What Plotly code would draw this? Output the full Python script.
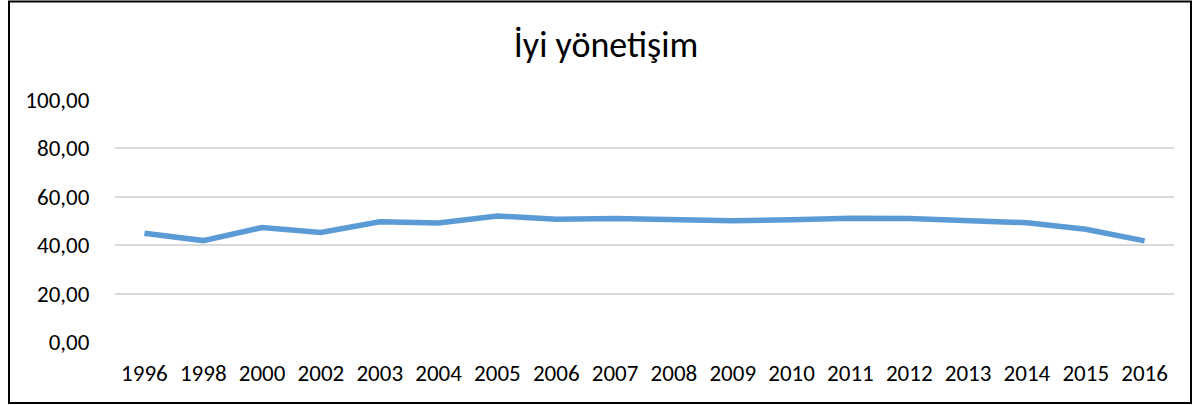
import plotly.graph_objects as go

years = ["1996", "1998", "2000", "2002", "2003", "2004", "2005", "2006", "2007",
         "2008", "2009", "2010", "2011", "2012", "2013", "2014", "2015", "2016"]
values = [44.9, 41.9, 47.3, 45.3, 49.7, 49.2, 52.1, 50.7, 51.0,
          50.7, 50.1, 50.5, 51.1, 51.0, 50.1, 49.3, 46.6, 41.8]
title_text = "İyi yönetişim"

W, H = 1200, 405
ml, mr, mt, mb = 115, 26, 100, 63
pw, ph = W - ml - mr, H - mt - mb

fig = go.Figure()
fig.add_trace(go.Scatter(
    x=years, y=values, mode="lines",
    line=dict(color="#5B9BD5", width=5.5, shape="linear"),
    hoverinfo="x+y",
))

font = "Carlito, Calibri, 'Liberation Sans', sans-serif"

fig.update_layout(
    width=W, height=H,
    margin=dict(l=ml, r=mr, t=mt, b=mb),
    paper_bgcolor="white", plot_bgcolor="white",
    separators=",.",
    showlegend=False,
    title=dict(text=title_text, x=606 / W, xanchor="center", y=1 - 44 / H, yanchor="middle",
               font=dict(family=font, size=36, color="#000000")),
    font=dict(family=font, size=23, color="#000000"),
    xaxis=dict(type="category", range=[-0.5, len(years) - 0.5], showgrid=False,
               showline=False, zeroline=False, ticks="outside", ticklen=10,
               tickcolor="rgba(0,0,0,0)", tickfont=dict(size=23)),
    yaxis=dict(range=[0, 100], tickvals=[0, 20, 40, 60, 80, 100], tickformat=".2f",
               showgrid=True, gridcolor="#D9D9D9", gridwidth=1.5, zeroline=False,
               showline=False, ticks="outside", ticklen=20, tickcolor="rgba(0,0,0,0)",
               tickfont=dict(size=23)),
    shapes=[dict(type="rect", xref="paper", yref="paper",
                 x0=(9 - ml) / pw, x1=(1191 - ml) / pw,
                 y0=(H - mb - 403) / ph, y1=(H - mb - 1.5) / ph,
                 line=dict(color="#000000", width=2), fillcolor="rgba(0,0,0,0)", layer="below")],
)

fig.write_html("out.html", config={"displayModeBar": False},
               post_script="document.body.style.margin='0';document.body.style.overflow='hidden';")
